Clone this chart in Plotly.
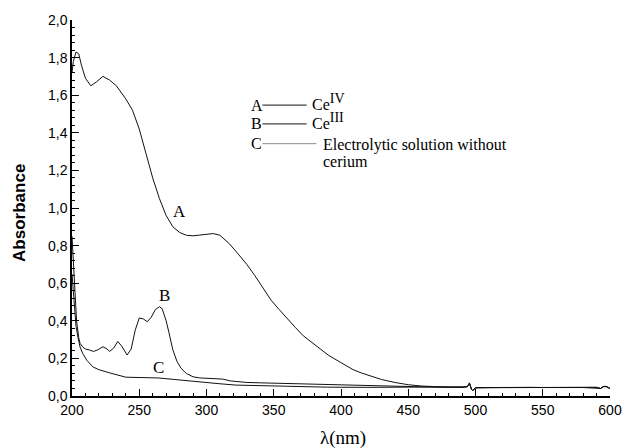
import plotly.graph_objects as go

# ---- data ----
wl_A = [200, 201, 203, 205, 207, 210, 214, 218, 223, 228, 233, 240, 245, 250, 255, 260,
        265, 270, 275, 280, 285, 290, 295, 300, 305, 310, 317, 323, 330, 336, 342, 348,
        354, 360, 366, 372, 379, 385, 391, 397, 403, 409, 415, 422, 430, 440, 450, 460,
        470, 480, 490, 494, 495.5, 497, 498, 500, 510, 520, 530, 540, 550, 560, 570, 580,
        590, 593, 595, 597, 600]
abs_A = [1.72, 1.78, 1.83, 1.82, 1.76, 1.69, 1.65, 1.67, 1.70, 1.68, 1.65, 1.58, 1.52, 1.42,
         1.29, 1.16, 1.05, 0.96, 0.90, 0.87, 0.855, 0.852, 0.856, 0.862, 0.864, 0.855, 0.81,
         0.76, 0.70, 0.64, 0.575, 0.51, 0.46, 0.41, 0.365, 0.32, 0.28, 0.245, 0.215, 0.19,
         0.163, 0.14, 0.123, 0.105, 0.088, 0.072, 0.060, 0.053, 0.049, 0.047, 0.046, 0.050,
         0.070, 0.035, 0.028, 0.044, 0.045, 0.046, 0.045, 0.046, 0.045, 0.046, 0.045, 0.046,
         0.046, 0.040, 0.050, 0.052, 0.040]

wl_B = [200, 201, 202, 203.4, 205, 206, 208, 210, 213, 216, 219, 223, 226, 228, 231, 234,
        237, 241, 244, 247, 250, 253, 256, 259, 262, 265, 267, 270, 272, 275, 278, 281,
        285, 290, 295, 300, 306, 312, 318, 323, 330, 340, 350, 370, 390, 410, 430, 450,
        470, 490, 494, 495.5, 497, 498, 500, 520, 540, 560, 580, 590, 593, 595, 597, 600]
abs_B = [0.85, 0.70, 0.55, 0.40, 0.31, 0.28, 0.26, 0.25, 0.245, 0.237, 0.245, 0.262, 0.25,
         0.237, 0.255, 0.29, 0.265, 0.218, 0.25, 0.35, 0.415, 0.41, 0.395, 0.42, 0.46, 0.475,
         0.465, 0.40, 0.34, 0.245, 0.185, 0.148, 0.12, 0.102, 0.096, 0.095, 0.095, 0.09,
         0.08, 0.075, 0.072, 0.07, 0.068, 0.064, 0.06, 0.056, 0.052, 0.049, 0.047, 0.046,
         0.050, 0.068, 0.036, 0.029, 0.044, 0.045, 0.045, 0.046, 0.045, 0.046, 0.040,
         0.050, 0.051, 0.040]

wl_C = [200, 201, 202, 203, 204.5, 206, 208, 211, 215.5, 220, 228, 234, 240, 252, 264, 276,
        288, 300, 310, 322, 340, 360, 390, 420, 450, 480, 494, 495.5, 497, 498, 500, 540,
        580, 593, 595, 597, 600]
abs_C = [0.65, 0.55, 0.45, 0.37, 0.31, 0.26, 0.226, 0.19, 0.155, 0.14, 0.123, 0.11, 0.10,
         0.098, 0.096, 0.088, 0.079, 0.07, 0.065, 0.058, 0.055, 0.052, 0.047, 0.046, 0.046,
         0.045, 0.049, 0.066, 0.036, 0.029, 0.044, 0.045, 0.045, 0.040, 0.049, 0.050, 0.040]

x_ticks = [200, 250, 300, 350, 400, 450, 500, 550, 600]
y_ticks = [0.0, 0.2, 0.4, 0.6, 0.8, 1.0, 1.2, 1.4, 1.6, 1.8, 2.0]

curve_labels = ["A", "B", "C"]
curve_label_pos = [(279.6, 0.98), (268.6, 0.537), (264.2, 0.153)]
legend_letters = ["A", "B", "C"]
legend_texts = ["Ce<sup><span style='font-size:14px'>IV</span></sup>",
                "Ce<sup><span style='font-size:14px'>III</span></sup>",
                "Electrolytic solution without"]
legend_extra_line = "cerium"
legend_line_colors = ["#111111", "#111111", "#8a8a8a"]

SANS = "Liberation Sans, Arial, sans-serif"
SERIF = "Liberation Serif, Times New Roman, serif"

fig = go.Figure()
for wl, ab, name in [(wl_A, abs_A, "A"), (wl_B, abs_B, "B"), (wl_C, abs_C, "C")]:
    fig.add_trace(go.Scatter(x=wl, y=ab, mode="lines", name=name,
                             line=dict(color="#111111", width=1), showlegend=False))

annotations = []
for txt, (x, y) in zip(curve_labels, curve_label_pos):
    annotations.append(dict(x=x, y=y, xref="x", yref="y", text=txt, showarrow=False,
                            font=dict(family=SERIF, size=17, color="black")))

# legend replica (letter ---- text)
W, H, L, T = 548.0, 380.0, 72.0, 16.0
def px(x):
    return (x - L) / W
def py(y):
    return (T + H - y) / H

shapes = []
leg_rows = [102, 121, 141]
line_ends = [311, 311, 321]
text_starts = [314, 314, 326]
text_dy = [-3, -3, 1]
for i, yy in enumerate(leg_rows):
    annotations.append(dict(x=px(260), y=py(yy), xref="paper", yref="paper",
                            text=legend_letters[i], showarrow=False, xanchor="center",
                            yanchor="middle", font=dict(family=SERIF, size=16, color="black")))
    shapes.append(dict(type="line", xref="paper", yref="paper", x0=px(266), x1=px(line_ends[i]),
                       y0=py(yy), y1=py(yy), line=dict(color=legend_line_colors[i], width=1)))
    annotations.append(dict(x=px(text_starts[i]), y=py(yy + text_dy[i]), xref="paper",
                            yref="paper", text=legend_texts[i], showarrow=False, xanchor="left",
                            yanchor="middle", align="left",
                            font=dict(family=SERIF, size=16, color="black")))
annotations.append(dict(x=px(text_starts[2]), y=py(159), xref="paper", yref="paper",
                        text=legend_extra_line, showarrow=False, xanchor="left",
                        yanchor="middle", font=dict(family=SERIF, size=16, color="black")))

annotations.append(dict(x=px(19), y=py(211), xref="paper", yref="paper", text="<b>Absorbance</b>",
                        textangle=-90, showarrow=False, xanchor="center", yanchor="middle",
                        font=dict(family=SANS, size=17, color="black")))
annotations.append(dict(x=px(348), y=py(438), xref="paper", yref="paper", text="λ(nm)",
                        showarrow=False, xanchor="center", yanchor="middle",
                        font=dict(family=SERIF, size=19, color="black")))

fig.update_layout(
    width=634, height=448,
    margin=dict(l=72, r=14, t=16, b=52),
    paper_bgcolor="white", plot_bgcolor="white",
    separators=",.",
    annotations=annotations, shapes=shapes,
    xaxis=dict(range=[200, 600], tickvals=x_ticks, ticks="inside", ticklen=7,
               tickcolor="black", showline=True, linecolor="black", linewidth=1.5,
               showgrid=False, zeroline=False, mirror=False,
               tickfont=dict(family=SANS, size=14, color="black"),
               minor=dict(dtick=10, ticks="inside", ticklen=3, tickcolor="black", showgrid=False)),
    yaxis=dict(range=[0, 2.0], tickvals=y_ticks, tickformat=".1f", ticks="inside", ticklen=7,
               tickcolor="black", showline=True, linecolor="black", linewidth=1.5,
               showgrid=False, zeroline=False, mirror=False,
               tickfont=dict(family=SANS, size=14, color="black"),
               minor=dict(dtick=0.04, ticks="inside", ticklen=3, tickcolor="black", showgrid=False)),
)

fig.write_html("out.html")
